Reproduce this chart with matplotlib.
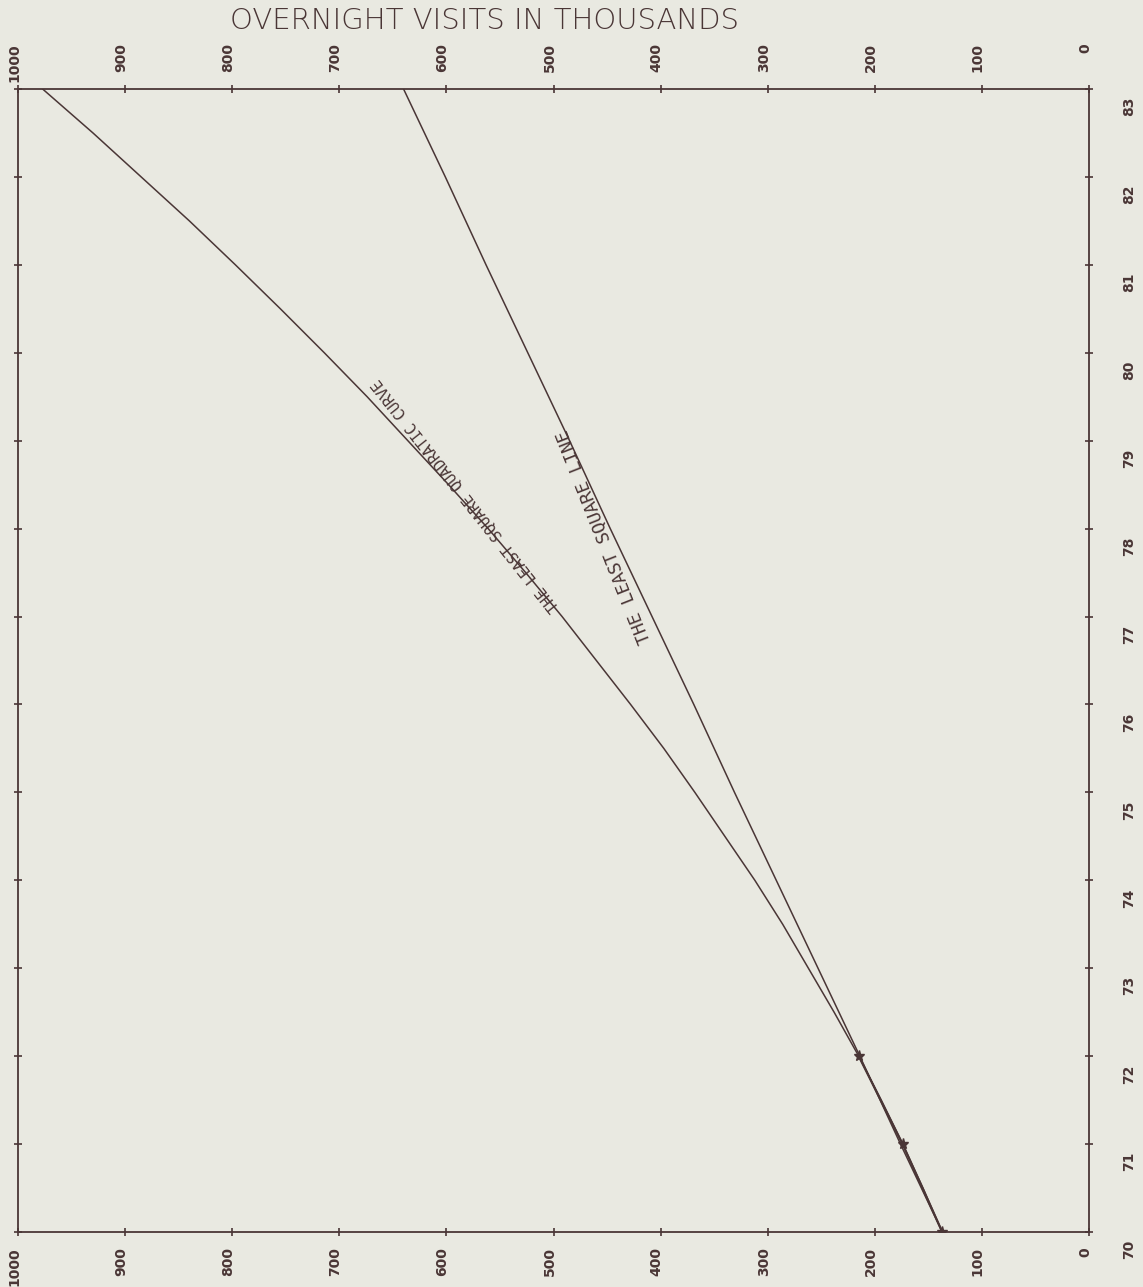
import matplotlib
matplotlib.use("Agg")
import matplotlib.pyplot as plt
import matplotlib.transforms as mtransforms

# years on the chart (19xx)
years = [70, 71, 72, 73, 74, 75, 76, 77, 78, 79, 80, 81, 82, 83]
# observed overnight visits (thousands)
obs_years = [70, 71, 72]
obs_visits = [137, 174, 215]
# values
line_visits = [137, 176, 214, 253, 292, 331, 369, 408, 447, 485, 524, 563, 601, 640]
# values (every half year)
quad_years = [70, 70.5, 71, 71.5, 72, 72.5, 73, 73.5, 74, 74.5, 75, 75.5, 76, 76.5,
              77, 77.5, 78, 78.5, 79, 79.5, 80, 80.5, 81, 81.5, 82, 82.5, 83]
quad_visits = [137, 155, 174, 194, 215, 238, 262, 286, 312, 340, 368, 397, 428, 460,
               492, 526, 561, 598, 636, 674, 714, 755, 797, 840, 885, 930, 977]

visit_ticks = [0, 100, 200, 300, 400, 500, 600, 700, 800, 900, 1000]

bg = "#e9e9e1"
ink = "#4a3636"

W, H = 1143, 1287
fig = plt.figure(figsize=(W / 100, H / 100), dpi=100, facecolor=bg)
ax = fig.add_axes([18 / W, 1 - 1232 / H, (1089 - 18) / W, (1232 - 89) / H])
ax.set_facecolor(bg)

ax.plot(line_visits, years, color=ink, lw=1.1)
ax.plot(quad_visits, quad_years, color=ink, lw=1.1)
ax.plot(obs_visits, obs_years, color=ink, lw=1.6, marker="*", ms=8)

ax.set_xlim(1000, 0)
ax.set_ylim(70, 83)
for s in ax.spines.values():
    s.set_color(ink)
    s.set_linewidth(1.3)

ax.set_xticks(visit_ticks)
ax.set_yticks(years)
ax.tick_params(which="both", direction="inout", length=6, width=1.2, color=ink,
               top=True, bottom=True, left=True, right=True,
               labelbottom=False, labelleft=False, labeltop=False, labelright=False)

# tick labels, rotated like the plotter output
top_tr = mtransforms.offset_copy(ax.get_xaxis_transform(), fig=fig, x=-4, y=46, units="dots")
bot_tr = mtransforms.offset_copy(ax.get_xaxis_transform(), fig=fig, x=-4, y=-15, units="dots")
for v in visit_ticks:
    ax.text(v, 1, str(v), transform=top_tr, rotation=90, ha="center", va="top",
            fontsize=10, color=ink, fontweight="bold")
    ax.text(v, 0, str(v), transform=bot_tr, rotation=90, ha="center", va="top",
            fontsize=10, color=ink, fontweight="bold")

right_tr = mtransforms.offset_copy(ax.get_yaxis_transform(), fig=fig, x=40, y=-8, units="dots")
for yr in years:
    ax.text(1, yr, str(yr), transform=right_tr, rotation=90, ha="center", va="top",
            fontsize=10, color=ink, fontweight="bold")

# labels along the two fits
ax.text(405, 76.74, "THE LEAST SQUARE LINE", rotation=111.6, rotation_mode="anchor",
        ha="left", va="bottom", fontsize=13, color=ink, family="DejaVu Sans Mono")
ax.text(498, 77.08, "THE LEAST SQUARE QUADRATIC CURVE", rotation=128.3, rotation_mode="anchor",
        ha="left", va="center", fontsize=11, color=ink, family="DejaVu Sans Mono")

fig.text(484 / W, 1 - 21 / H, "OVERNIGHT VISITS IN THOUSANDS", ha="center", va="center",
         fontsize=21, color=ink, family="DejaVu Sans", fontweight="light")

fig.savefig("out.png", dpi=100, facecolor=bg)
